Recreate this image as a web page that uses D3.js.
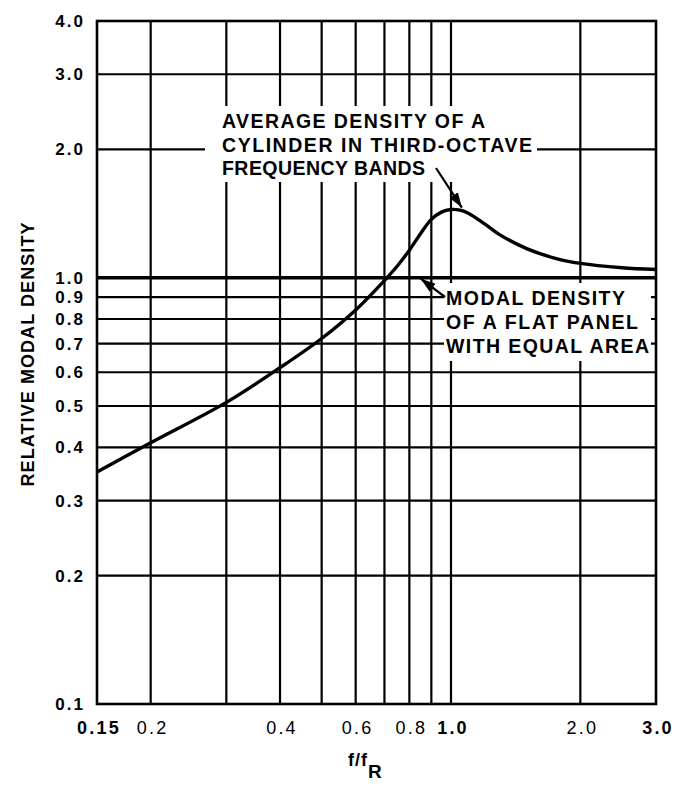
<!DOCTYPE html>
<html>
<head>
<meta charset="utf-8">
<script src="https://cdn.jsdelivr.net/npm/d3@7"></script>
<style>
  body { margin: 0; background: #fff; }
  svg text { font-family: "Liberation Sans", Arial, Helvetica, sans-serif; font-weight: bold; fill: #000; }
</style>
</head>
<body>
<div id="chart"></div>
<script>
// ------ Data ---------------//
var freqRatio = [0.15, 0.2, 0.3, 0.4, 0.5, 0.6, 0.7, 0.75, 0.8, 0.85, 0.9, 0.95, 1.0, 1.05, 1.1, 1.2, 1.3, 1.5, 1.75, 2.0, 2.5, 3.0];
var density   = [0.35, 0.41, 0.51, 0.615, 0.72, 0.84, 0.985, 1.065, 1.16, 1.27, 1.37, 1.425, 1.445, 1.44, 1.415, 1.335, 1.26, 1.17, 1.11, 1.08, 1.055, 1.045];

var xGrid = [0.2, 0.3, 0.4, 0.5, 0.6, 0.7, 0.8, 0.9, 1.0, 2.0];
var xTicks = [0.15, 0.2, 0.4, 0.6, 0.8, 1.0, 2.0, 3.0];
var xTickLabels = ["0.15", "0.2", "0.4", "0.6", "0.8", "1.0", "2.0", "3.0"];
var xTickBold = [true, false, false, false, false, true, false, true];   // heavier print in the original

var yGrid = [0.2, 0.3, 0.4, 0.5, 0.6, 0.7, 0.8, 0.9, 2.0, 3.0];
var yTicks = [0.1, 0.2, 0.3, 0.4, 0.5, 0.6, 0.7, 0.8, 0.9, 1.0, 2.0, 3.0, 4.0];
var yTickLabels = ["0.1", "0.2", "0.3", "0.4", "0.5", "0.6", "0.7", "0.8", "0.9", "1.0", "2.0", "3.0", "4.0"];

var cylinderNote = ["AVERAGE DENSITY OF A", "CYLINDER IN THIRD-OCTAVE", "FREQUENCY BANDS"];
var panelNote = ["MODAL DENSITY", "OF A FLAT PANEL", "WITH EQUAL AREA"];

// ------ SVG ---------------//
var width = 675, height = 787;
var margin = {top: 21, right: 19, bottom: 83, left: 97};

var svg = d3.select("#chart").append("svg")
    .attr("width", width)
    .attr("height", height);

svg.append("defs").append("marker")
    .attr("id", "head")
    .attr("viewBox", "0 0 15 10")
    .attr("refX", 15).attr("refY", 5)
    .attr("markerWidth", 15).attr("markerHeight", 10)
    .attr("markerUnits", "userSpaceOnUse")
    .attr("orient", "auto")
  .append("path")
    .attr("d", "M0,0 L15,5 L0,10 Z")
    .attr("fill", "#000");

// ------ Scales ---------------//
var x = d3.scaleLog()
    .domain([0.15, 3.0])
    .range([margin.left, width - margin.right]);

var y = d3.scaleLog()
    .domain([0.1, 4.0])
    .range([height - margin.bottom, margin.top]);

// ------ Grid ---------------//
var grid = svg.append("g").attr("stroke", "#000").attr("fill", "none");

grid.selectAll(".vgrid").data(xGrid).join("line")
    .attr("class", "vgrid")
    .attr("x1", d => x(d)).attr("x2", d => x(d))
    .attr("y1", y(0.1)).attr("y2", y(4.0))
    .attr("stroke-width", 2.2);

grid.selectAll(".hgrid").data(yGrid).join("line")
    .attr("class", "hgrid")
    .attr("x1", x(0.15)).attr("x2", x(3.0))
    .attr("y1", d => y(d)).attr("y2", d => y(d))
    .attr("stroke-width", 2.2);

// the unity line is drawn heavier
grid.append("line")
    .attr("x1", x(0.15)).attr("x2", x(3.0))
    .attr("y1", y(1.0)).attr("y2", y(1.0))
    .attr("stroke-width", 3.5);

// ------ Frame ---------------//
svg.append("rect")
    .attr("x", x(0.15)).attr("y", y(4.0))
    .attr("width", x(3.0) - x(0.15))
    .attr("height", y(0.1) - y(4.0))
    .attr("fill", "none")
    .attr("stroke", "#000")
    .attr("stroke-width", 2.6);

// ------ Curve ---------------//
var line = d3.line()
    .x((d, i) => x(freqRatio[i]))
    .y(d => y(d))
    .curve(d3.curveCatmullRom.alpha(0.5));

svg.append("path")
    .datum(density)
    .attr("d", line)
    .attr("fill", "none")
    .attr("stroke", "#000")
    .attr("stroke-width", 3.4);

// ------ Tick labels ---------------//
svg.append("g").selectAll("text").data(xTicks).join("text")
    .attr("x", d => x(d) + 2)
    .attr("y", 734)
    .attr("text-anchor", "middle")
    .attr("font-size", 18)
    .attr("letter-spacing", 2.2)
    .style("font-weight", (d, i) => xTickBold[i] ? "bold" : "normal")
    .text((d, i) => xTickLabels[i]);

svg.append("g").selectAll("text").data(yTicks).join("text")
    .attr("x", 85)
    .attr("y", d => y(d) + 6)
    .attr("text-anchor", "end")
    .attr("font-size", 17)
    .attr("letter-spacing", 2)
    .text((d, i) => yTickLabels[i]);

// ------ Axis titles ---------------//
svg.append("text")
    .attr("transform", `translate(34,${(y(0.1) + y(4.0)) / 2 - 8}) rotate(-90)`)
    .attr("text-anchor", "middle")
    .attr("font-size", 18)
    .attr("textLength", 264)
    .attr("lengthAdjust", "spacing")
    .text("RELATIVE MODAL DENSITY");

var xTitle = svg.append("text")
    .attr("x", 348)
    .attr("y", 766)
    .attr("font-size", 18)
    .attr("letter-spacing", 1);
xTitle.append("tspan").text("f/f");
xTitle.append("tspan").attr("dy", 12).attr("font-size", 19).text("R");

// ------ Annotation: cylinder ---------------//
svg.append("rect")
    .attr("x", 205).attr("y", 106)
    .attr("width", 332).attr("height", 76)
    .attr("fill", "#fff");

var cylinderWidths = [263, 310, 203];
svg.append("g").selectAll("text").data(cylinderNote).join("text")
    .attr("x", 222)
    .attr("y", (d, i) => 128 + i * 23.5)
    .attr("font-size", 19.5)
    .attr("textLength", (d, i) => cylinderWidths[i])
    .attr("lengthAdjust", "spacing")
    .text(d => d);

svg.append("line")
    .attr("x1", 436).attr("y1", 168)
    .attr("x2", x(1.06)).attr("y2", y(1.46))
    .attr("stroke", "#000")
    .attr("stroke-width", 2.2)
    .attr("marker-end", "url(#head)");

// ------ Annotation: flat panel ---------------//
svg.append("rect")
    .attr("x", 444).attr("y", 283)
    .attr("width", 207).attr("height", 78)
    .attr("fill", "#fff");

var panelWidths = [179, 192, 203];
svg.append("g").selectAll("text").data(panelNote).join("text")
    .attr("x", 446)
    .attr("y", (d, i) => 304.5 + i * 24)
    .attr("font-size", 19.5)
    .attr("textLength", (d, i) => panelWidths[i])
    .attr("lengthAdjust", "spacing")
    .text(d => d);

svg.append("line")
    .attr("x1", 445).attr("y1", 297)
    .attr("x2", x(0.85)).attr("y2", y(1.0) + 1)
    .attr("stroke", "#000")
    .attr("stroke-width", 2.2)
    .attr("marker-end", "url(#head)");
</script>
</body>
</html>
